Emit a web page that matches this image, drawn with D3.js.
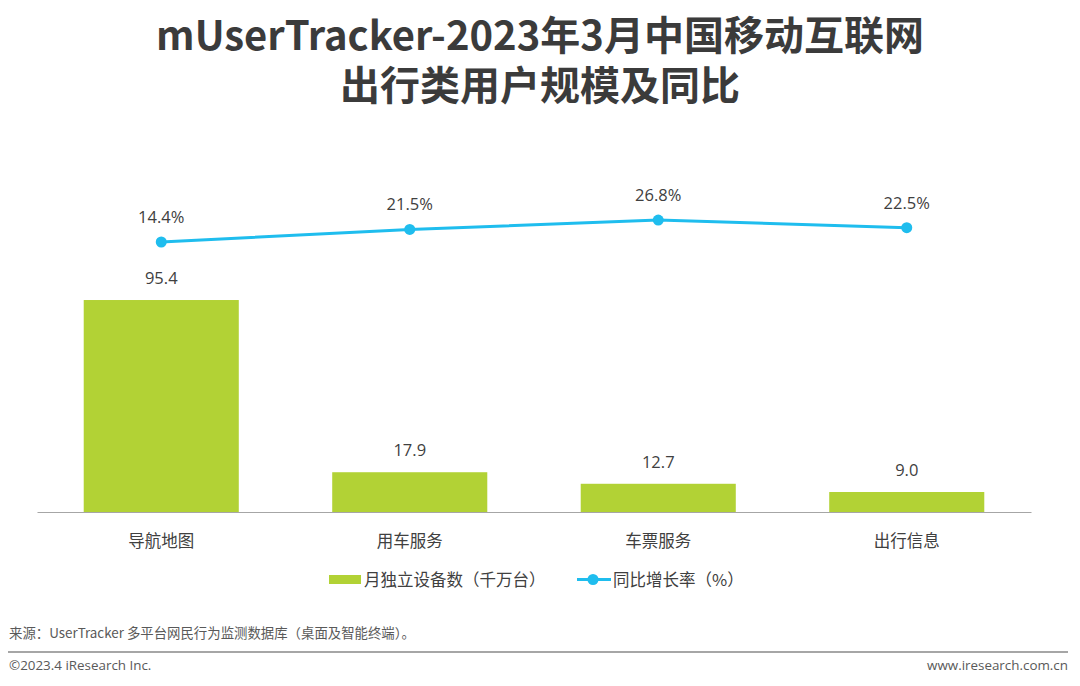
<!DOCTYPE html>
<html><head><meta charset="utf-8">
<script src="https://cdn.jsdelivr.net/npm/d3@7"></script>
<style>
html,body{margin:0;padding:0;background:#fff;}
svg{display:block;font-family:"Open Sans","Noto Sans CJK SC",sans-serif;}
</style></head>
<body>
<svg id="chart" width="1080" height="686"></svg>
<script>
const categories = ["导航地图","用车服务","车票服务","出行信息"];
const devices = [95.4, 17.9, 12.7, 9.0];
const growth = [14.4, 21.5, 26.8, 22.5];
const titleLines = ["mUserTracker-2023年3月中国移动互联网","出行类用户规模及同比"];
const legendLabels = ["月独立设备数（千万台）","同比增长率（%）"];
const sourceText = "来源：UserTracker 多平台网民行为监测数据库（桌面及智能终端）。";
const copyrightText = "©2023.4 iResearch Inc.";
const siteText = "www.iresearch.com.cn";

const svg = d3.select("#chart");
const barColor = "#b2d235", lineColor = "#1fbdee", textColor = "#404040";

// title
svg.selectAll("text.title").data(titleLines).join("text")
  .attr("class","title")
  .attr("x",540).attr("y",(d,i)=>50+i*50)
  .attr("text-anchor","middle")
  .attr("font-family","'Noto Sans CJK SC',sans-serif")
  .attr("font-weight","bold").attr("font-size",40)
  .attr("fill","#3b3b3b").text(d=>d);

const x = d3.scaleBand().domain(categories).range([37,1031]).paddingInner(0.376).paddingOuter(0.188);
const yBar = d3.scaleLinear().domain([0,100]).range([512, 289.8]);
const yLine = d3.scaleLinear().domain([0,30]).range([267.5, 214.4]);

// bars
svg.selectAll("rect.bar").data(devices).join("rect")
  .attr("class","bar")
  .attr("x",(d,i)=>x(categories[i])).attr("width",x.bandwidth())
  .attr("y",d=>yBar(d)).attr("height",d=>yBar(0)-yBar(d))
  .attr("fill",barColor);

svg.selectAll("text.barlab").data(devices).join("text")
  .attr("class","barlab")
  .attr("x",(d,i)=>x(categories[i])+x.bandwidth()/2)
  .attr("y",d=>yBar(d)-16)
  .attr("text-anchor","middle").attr("font-size",16.5).attr("fill",textColor)
  .text(d=>d.toFixed(1));

// axis
const axis = svg.append("g").attr("transform",`translate(0,${yBar(0)})`)
  .call(d3.axisBottom(x).tickSize(0).tickPadding(23));
axis.select(".domain").attr("stroke","#a6a6a6").attr("stroke-width",1.2);
axis.selectAll("text").attr("font-size",16.5).attr("fill",textColor)
  .attr("font-family","'Noto Sans CJK SC',sans-serif");

// line
const cx = (i)=>x(categories[i])+x.bandwidth()/2;
const line = d3.line().x((d,i)=>cx(i)).y(d=>yLine(d));
svg.append("path").datum(growth).attr("d",line)
  .attr("fill","none").attr("stroke",lineColor).attr("stroke-width",3);
svg.selectAll("circle.pt").data(growth).join("circle")
  .attr("class","pt").attr("cx",(d,i)=>cx(i)).attr("cy",d=>yLine(d)).attr("r",5.5)
  .attr("fill",lineColor);
svg.selectAll("text.ptlab").data(growth).join("text")
  .attr("class","ptlab").attr("x",(d,i)=>cx(i)).attr("y",d=>yLine(d)-19)
  .attr("text-anchor","middle").attr("font-size",16.5).attr("fill",textColor)
  .text(d=>d.toFixed(1)+"%");

// legend
const lg = svg.append("g").attr("font-family","'Noto Sans CJK SC',sans-serif");
lg.append("rect").attr("x",329).attr("y",575).attr("width",32).attr("height",9).attr("fill",barColor);
lg.append("text").attr("x",364).attr("y",586).attr("font-size",16.5).attr("fill",textColor).text(legendLabels[0]);
lg.append("line").attr("x1",577).attr("x2",611).attr("y1",579.5).attr("y2",579.5).attr("stroke",lineColor).attr("stroke-width",3);
lg.append("circle").attr("cx",593).attr("cy",579.5).attr("r",5.5).attr("fill",lineColor);
lg.append("text").attr("x",613).attr("y",586).attr("font-size",16.5).attr("fill",textColor).text(legendLabels[1]);

// footer
svg.append("text").attr("x",9).attr("y",638).attr("font-size",13.4).attr("fill","#595959")
  .attr("font-family","'Noto Sans CJK SC',sans-serif").text(sourceText);
svg.append("line").attr("x1",8).attr("x2",1068).attr("y1",652).attr("y2",652)
  .attr("stroke","#a6a6a6").attr("stroke-width",2);
svg.append("text").attr("x",9).attr("y",670).attr("font-size",13.4).attr("fill","#595959").text(copyrightText);
svg.append("text").attr("x",1068).attr("y",670).attr("text-anchor","end").attr("font-size",13.4).attr("fill","#595959").text(siteText);
</script>
</body></html>
